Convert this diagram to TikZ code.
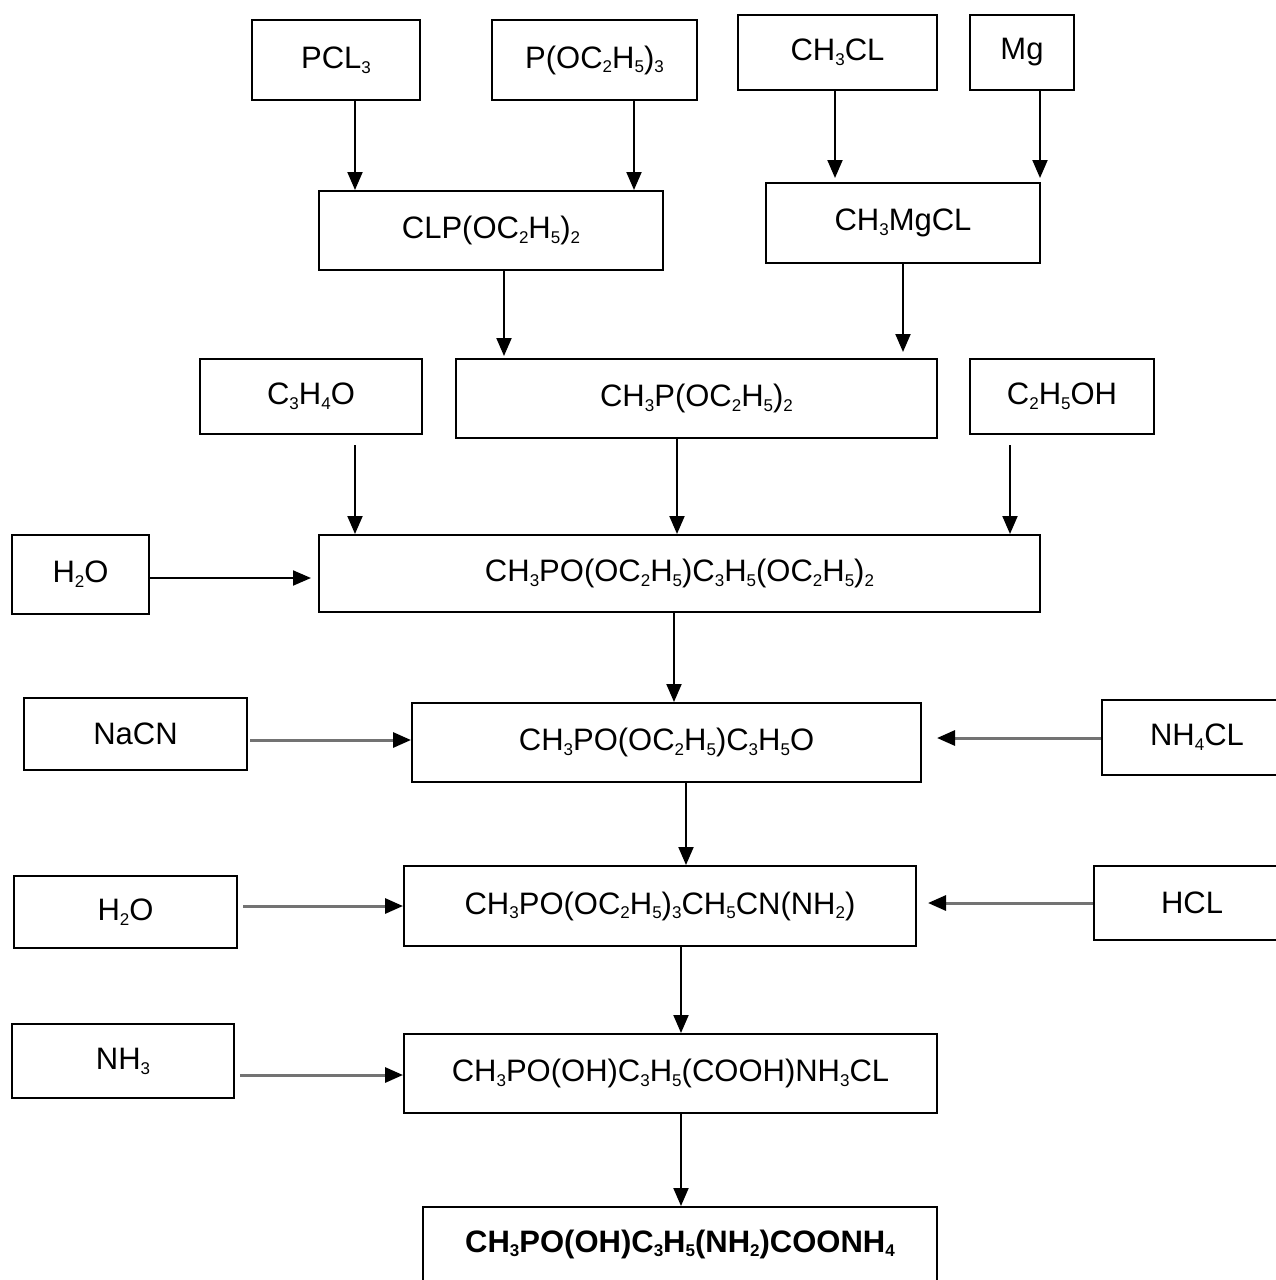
\documentclass[tikz,border=0pt]{standalone}
\usepackage{fontspec}
\setmainfont{Liberation Sans}
\usetikzlibrary{arrows.meta}
\newcommand{\sbs}[1]{\raisebox{-0.3ex}{\fontsize{17}{17}\selectfont #1}}
\tikzset{
	chem/.style   ={rectangle, draw=black, line width=2pt, inner sep=0pt, align=center, text=black},
	feed/.style   ={-{Triangle[length=18pt, width=15pt]}, line width=2pt},
	grayfeed/.style={-{Triangle[length=18pt, width=15pt, color=black]}, line width=3pt, draw=black!55},
}

\begin{document}
\begin{tikzpicture}[x=1pt, y=-1pt, font=\fontsize{31}{36}\selectfont]
	\useasboundingbox (0,0) rectangle (1276,1280);
	\clip (0,0) rectangle (1276,1280);
	% raw materials
	\node[chem, minimum width=168, minimum height=80] (pcl) at (336,60) {PCL\sbs{3}};
	\node[chem, minimum width=205, minimum height=80] (pet) at (594.5,60) {P(OC\sbs{2}H\sbs{5})\sbs{3}};
	\node[chem, minimum width=199, minimum height=75] (mecl) at (837.5,52.5) {CH\sbs{3}CL};
	\node[chem, minimum width=104, minimum height=75] (mg) at (1022,52.5) {Mg};
	% intermediates
	\node[chem, minimum width=344, minimum height=79] (clp) at (491,230.5) {CLP(OC\sbs{2}H\sbs{5})\sbs{2}};
	\node[chem, minimum width=274, minimum height=80] (grig) at (903,223) {CH\sbs{3}MgCL};
	\node[chem, minimum width=222, minimum height=75] (acr) at (311,396.5) {C\sbs{3}H\sbs{4}O};
	\node[chem, minimum width=481, minimum height=79] (mep) at (696.5,398.5) {CH\sbs{3}P(OC\sbs{2}H\sbs{5})\sbs{2}};
	\node[chem, minimum width=184, minimum height=75] (etoh) at (1062,396.5) {C\sbs{2}H\sbs{5}OH};
	\node[chem, minimum width=137, minimum height=79] (wat1) at (80.5,574.5) {H\sbs{2}O};
	\node[chem, minimum width=721, minimum height=77] (ada) at (679.5,573.5) {CH\sbs{3}PO(OC\sbs{2}H\sbs{5})C\sbs{3}H\sbs{5}(OC\sbs{2}H\sbs{5})\sbs{2}};
	\node[chem, minimum width=223, minimum height=72] (nacn) at (135.5,734) {NaCN};
	\node[chem, minimum width=509, minimum height=79] (ald) at (666.5,742.5) {CH\sbs{3}PO(OC\sbs{2}H\sbs{5})C\sbs{3}H\sbs{5}O};
	\node[chem, minimum width=190, minimum height=75] (nhcl) at (1197,737.5) {NH\sbs{4}CL};
	\node[chem, minimum width=223, minimum height=72] (wat2) at (125.5,912) {H\sbs{2}O};
	\node[chem, minimum width=512, minimum height=80] (nit) at (660,906) {CH\sbs{3}PO(OC\sbs{2}H\sbs{5})\sbs{3}CH\sbs{5}CN(NH\sbs{2})};
	\node[chem, minimum width=196, minimum height=74] (hcl) at (1192,903) {HCL};
	\node[chem, minimum width=222, minimum height=74] (nh3) at (123,1061) {NH\sbs{3}};
	\node[chem, minimum width=533, minimum height=79] (acid) at (670.5,1073.5) {CH\sbs{3}PO(OH)C\sbs{3}H\sbs{5}(COOH)NH\sbs{3}CL};
	% product
	\node[chem, minimum width=514, minimum height=74, font=\fontsize{31}{36}\selectfont\bfseries] (prod) at (680,1244) {CH\sbs{3}PO(OH)C\sbs{3}H\sbs{5}(NH\sbs{2})COONH\sbs{4}};

	% vertical feeds
	\draw[feed] (355,0 |- pcl.south) -- (355,0 |- clp.north);
	\draw[feed] (634,0 |- pet.south) -- (634,0 |- clp.north);
	\draw[feed] (835,0 |- mecl.south) -- (835,178);
	\draw[feed] (1040,0 |- mg.south) -- (1040,178);
	\draw[feed] (504,0 |- clp.south) -- (504,356);
	\draw[feed] (903,0 |- grig.south) -- (903,352);
	\draw[feed] (355,445) -- (355,0 |- ada.north);
	\draw[feed] (677,0 |- mep.south) -- (677,0 |- ada.north);
	\draw[feed] (1010,445) -- (1010,0 |- ada.north);
	\draw[feed] (674,0 |- ada.south) -- (674,0 |- ald.north);
	\draw[feed] (686,0 |- ald.south) -- (686,0 |- nit.north);
	\draw[feed] (681,0 |- nit.south) -- (681,0 |- acid.north);
	\draw[feed] (681,0 |- acid.south) -- (681,0 |- prod.north);
	% side feeds
	\draw[feed] (wat1.east |- 0,578) -- (311,578);
	\draw[grayfeed] (250,740) -- (ald.west |- 0,740);
	\draw[grayfeed] (nhcl.west |- 0,738) -- (937,738);
	\draw[grayfeed] (243,906) -- (nit.west |- 0,906);
	\draw[grayfeed] (hcl.west |- 0,903) -- (928,903);
	\draw[grayfeed] (240,1075) -- (acid.west |- 0,1075);
\end{tikzpicture}
\end{document}
